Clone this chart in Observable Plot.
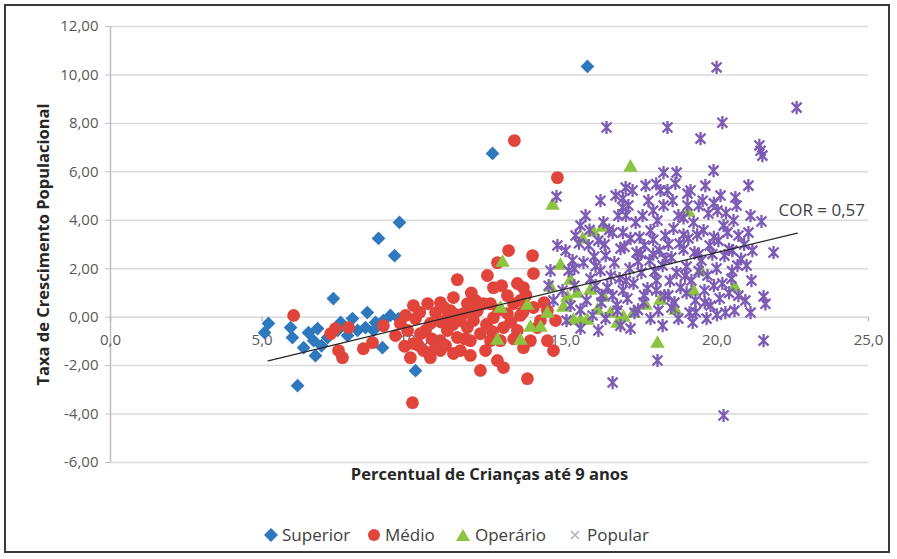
<!DOCTYPE html>
<html><head><meta charset="utf-8">
<script src="https://cdn.jsdelivr.net/npm/d3@7"></script>
<script src="https://cdn.jsdelivr.net/npm/@observablehq/plot@0.6"></script>
<style>
body{margin:0;background:#fff;font-family:"Open Sans",sans-serif;}
#wrap{position:relative;width:897px;height:559px;overflow:hidden;background:#fff;}
#frame{position:absolute;left:4px;top:4px;width:886px;height:549px;border:2px solid #3a3a3a;pointer-events:none;box-sizing:border-box;}
#chart{position:absolute;left:0;top:0;}
#legend{position:absolute;left:0;top:510px;width:897px;height:49px;font-size:17px;color:#404040;}
.item{position:absolute;top:14px;height:22px;line-height:22px;white-space:nowrap;}
.item svg{position:absolute;top:4px;}
.item span{position:absolute;top:0;}
</style>
</head><body>
<div id="wrap">
<div id="chart"></div>
<div id="legend"></div>
<div id="frame"></div>
</div>
<script>
// ---- data ----
const superior = [[15.73,10.35],[12.60,6.76],[9.53,3.91],[8.84,3.25],[9.37,2.54],[7.35,0.77],[5.21,-0.26],[5.08,-0.64],[5.94,-0.43],[6.00,-0.84],[6.53,-0.64],[6.83,-0.47],[6.70,-0.97],[6.37,-1.26],[6.76,-1.59],[7.16,-0.84],[7.49,-0.55],[7.82,-0.76],[8.15,-0.55],[8.47,0.19],[8.41,-0.43],[8.67,-0.55],[9.00,-0.14],[9.23,0.07],[8.97,-1.26],[6.17,-2.83],[10.06,-2.21],[6.96,-1.18],[7.59,-0.22],[7.98,-0.06],[8.74,-0.22],[9.50,-0.06]];
const medio = [[13.32,7.29],[14.74,5.76],[6.04,0.07],[9.96,-3.53],[13.75,-2.54],[12.20,-2.20],[11.44,1.55],[12.43,1.72],[13.13,2.75],[13.92,2.54],[13.95,1.80],[12.63,1.22],[13.42,1.39],[13.62,1.22],[12.76,2.25],[9.99,0.48],[10.46,0.56],[10.88,0.60],[11.31,0.81],[11.77,0.56],[12.10,0.27],[12.30,0.56],[9.56,-0.26],[9.80,-0.55],[9.99,-1.09],[10.32,-1.38],[10.55,-1.67],[9.89,-1.67],[10.88,-0.97],[11.11,-0.55],[11.44,-0.84],[11.54,-1.38],[11.77,-0.43],[11.97,-0.14],[12.20,-0.68],[12.53,-0.97],[12.76,-1.79],[12.96,-2.08],[13.62,-1.26],[13.42,-0.55],[13.09,0.15],[13.29,0.56],[13.95,0.40],[14.41,0.27],[14.41,-0.97],[14.61,-1.38],[14.08,-0.43],[12.96,-0.43],[12.63,-0.02],[11.64,0.15],[11.11,-0.02],[10.55,-0.26],[10.22,-0.68],[10.88,-1.38],[11.31,-1.50],[7.42,-0.47],[7.85,-0.43],[7.52,-1.38],[7.65,-1.67],[8.34,-1.30],[8.64,-1.05],[9.00,-0.35],[7.26,-0.68],[12.53,0.56],[13.09,0.89],[13.52,0.69],[14.18,-0.14],[14.68,-0.14],[11.21,0.27],[11.87,-0.97],[12.37,-1.38],[12.86,-0.97],[10.06,-0.06],[10.72,0.19],[10.39,-0.55],[11.54,-0.14],[11.05,-1.17],[9.40,-0.76],[9.73,0.07],[12.04,0.69],[13.52,0.07],[13.85,-0.97],[11.87,-1.58],[10.16,-1.17],
[10.2,0.2],[10.6,-0.9],[11.0,0.4],[11.3,-0.3],[11.7,-0.9],[12.0,0.2],[12.4,-0.3],[12.8,0.3],[13.2,-0.2],[13.6,0.2],[10.9,-0.2],[11.4,0.1],[12.6,-0.6],[13.3,-0.9],[9.7,-1.2],[10.7,-1.3],[11.9,1.0],[12.9,1.3],[13.7,0.9],[14.3,0.6]];
const operario = [[17.15,6.18],[14.58,4.61],[19.06,4.32],[15.57,3.20],[15.93,3.49],[16.23,3.70],[12.93,2.25],[14.84,2.13],[15.17,1.51],[19.46,1.88],[19.23,1.06],[20.58,1.22],[18.04,-1.09],[14.51,1.22],[15.40,0.97],[15.83,1.10],[16.26,0.81],[12.86,0.36],[13.75,0.48],[13.85,-0.43],[12.76,-0.97],[13.52,-0.97],[14.94,0.40],[16.06,0.27],[16.49,0.15],[15.27,-0.14],[15.73,-0.14],[16.72,-0.26],[16.92,-0.02],[14.41,0.15],[14.18,-0.43],[15.07,0.81],[15.50,-0.14],[17.25,0.15],[17.65,0.48],[18.14,0.69],[18.63,0.27]];
const popular = [[19.99,10.31],[22.63,8.65],[16.36,7.83],[18.37,7.83],[20.18,8.03],[19.46,7.37],[21.40,7.09],[21.44,6.87],[21.50,6.67],[18.24,5.97],[18.67,5.97],[19.89,6.05],[16.99,5.35],[21.04,5.43],[20.61,4.94],[14.71,4.98],[16.89,4.53],[15.50,3.78],[14.74,2.96],[21.87,2.67],[21.47,3.95],[21.54,0.85],[21.60,0.55],[21.54,-0.97],[16.56,-2.70],[18.04,-1.79],[20.22,-4.06],[18.37,5.23],[19.03,5.10],
[15.01,2.75],[15.11,1.92],[14.91,1.10],[15.17,0.48],[15.04,-0.14],[15.34,3.37],[15.24,2.34],
[15.67,4.19],[15.77,2.96],[15.60,2.25],[15.83,1.59],[15.70,0.69],[15.90,0.07],[15.50,-0.47],
[16.16,4.81],[16.26,3.91],[16.09,3.16],[16.33,2.54],[16.16,1.92],[16.39,1.22],[16.19,0.60],[16.33,-0.06],[16.09,-0.55],
[16.66,5.02],[16.75,4.19],[16.56,3.49],[16.82,2.83],[16.62,2.25],[16.79,1.59],[16.56,0.89],[16.72,0.27],[16.82,-0.35],
[17.22,5.23],[17.08,4.61],[17.32,3.91],[17.15,3.25],[17.35,2.67],[17.12,2.01],[17.25,1.39],[17.05,0.77],[17.28,0.19],[17.15,-0.47],
[17.65,5.43],[17.74,4.81],[17.55,4.19],[17.81,3.58],[17.61,2.96],[17.78,2.34],[17.51,1.84],[17.71,1.18],[17.58,0.60],[17.81,-0.06],
[18.14,5.23],[18.24,4.61],[18.04,3.99],[18.30,3.37],[18.11,2.75],[18.21,2.13],[18.01,1.51],[18.27,0.89],[18.07,0.27],[18.21,-0.35],
[18.63,5.52],[18.54,4.81],[18.73,4.19],[18.57,3.66],[18.77,3.04],[18.50,2.46],[18.67,1.84],[18.80,1.22],[18.60,0.60],[18.73,-0.06],
[19.13,5.23],[19.03,4.61],[19.23,3.91],[19.06,3.25],[19.26,2.67],[19.00,2.09],[19.16,1.51],[19.29,0.69],[19.10,0.19],[19.20,-0.22],
[19.62,5.43],[19.53,4.81],[19.72,4.28],[19.56,3.58],[19.76,2.96],[19.49,2.34],[19.69,1.72],[19.59,1.10],[19.79,0.48],[19.66,-0.06],
[20.12,5.02],[20.02,4.40],[20.22,3.78],[20.05,3.16],[20.25,2.54],[19.99,2.01],[20.18,1.39],[20.09,0.77],[20.28,0.19],
[20.65,4.61],[20.55,3.99],[20.71,3.37],[20.51,2.75],[20.68,2.13],[20.48,1.59],[20.71,0.89],[20.58,0.27],
[21.11,4.19],[21.04,3.49],[21.17,2.75],[20.98,2.13],[21.14,1.51],[20.94,0.69],[21.11,0.19],
[14.51,1.92],[14.61,0.69],[14.45,1.30],
[15.45,3.05],[15.95,2.5],[16.45,3.6],[16.95,2.9],[17.45,3.3],[17.9,2.6],[18.4,3.0],[18.9,2.8],[19.35,3.4],[19.85,2.6],[20.35,3.5],[20.8,2.4],[16.0,1.3],[16.5,1.7],[17.0,1.5],[17.4,2.3],[17.95,1.9],[18.45,1.5],[18.95,1.7],[19.4,1.9],[19.9,1.3],[20.4,1.0],[16.7,0.5],[17.6,0.9],[18.5,0.4],[19.3,0.2],[20.0,0.1],[15.3,1.3],[15.5,0.3],[16.9,4.9],[17.9,4.4],[19.4,4.6],[20.3,4.3],[18.0,5.5],
[15.8,3.6],[16.3,3.0],[16.9,3.5],[17.5,2.6],[17.9,3.2],[18.3,2.4],[18.9,3.4],[19.4,2.6],[19.9,3.3],[20.4,2.8],[16.2,0.9],[16.9,1.1],[17.4,0.3],[18.0,1.1],[18.4,0.9],[19.0,1.0],[19.6,0.6],[20.5,1.9],[17.0,4.2],[18.9,4.1],[19.9,4.7],[15.3,2.0],[16.0,2.1],[20.9,3.0]];
const trendX = [5.2, 22.65];
const trendY = [-1.80, 3.47];
const corLabel = "COR = 0,57";
const corPos = [22.03, 4.40];
const xTicks = [0, 5, 10, 15, 20, 25];
const yTicks = [-6, -4, -2, 0, 2, 4, 6, 8, 10, 12];
const seriesNames = ["Superior", "Médio", "Operário", "Popular"];
const colors = ["#2e78bd", "#e0443b", "#8cc43f", "#7d5cb5"];
const xTitle = "Percentual de Crianças até 9 anos";
const yTitle = "Taxa de Crescimento Populacional";

// ---- helpers ----
const fmt2 = v => d3.format(".2f")(v).replace(".", ",").replace("\u2212", "-");
const fmt1 = v => d3.format(".1f")(v).replace(".", ",").replace("\u2212", "-");
const star = {
  draw(ctx, size) {
    const s = Math.sqrt(size / Math.PI);
    const a = s * 0.68;
    ctx.moveTo(-a, -a); ctx.lineTo(a, a);
    ctx.moveTo(a, -a); ctx.lineTo(-a, a);
    ctx.moveTo(0, -s * 0.9); ctx.lineTo(0, s * 0.9);
  }
};
const trend = trendX.map((x, i) => ({x, y: trendY[i]}));

const chart = Plot.plot({
  width: 897, height: 510,
  marginLeft: 110, marginRight: 29, marginTop: 26, marginBottom: 48,
  x: {domain: [0, 25], axis: null},
  y: {domain: [-6, 12], axis: null},
  style: {fontFamily: "Open Sans", background: "white"},
  marks: [
    Plot.ruleY(yTicks, {stroke: "#d9d9d9", strokeWidth: 1.5}),
    Plot.ruleX([0], {y1: -6, y2: 12, stroke: "#bfbfbf", strokeWidth: 1.5}),
    Plot.ruleX(xTicks, {y1: 0, y2: -0.2, stroke: "#bfbfbf", strokeWidth: 1.5}),
    Plot.axisY(yTicks, {tickSize: 5, tickPadding: 7, tickFormat: fmt2, fontSize: 15, stroke: "#bfbfbf", fill: "#595959", label: null}),
    Plot.text(xTicks, {x: d => d, y: 0, dy: 23, text: fmt1, fill: "#595959", fontSize: 15}),
    Plot.dot(superior, {x: d => d[0], y: d => d[1], symbol: "diamond2", r: 6.2, fill: colors[0]}),
    Plot.dot(medio, {x: d => d[0], y: d => d[1], symbol: "circle", r: 6.4, fill: colors[1]}),
    Plot.dot(operario, {x: d => d[0], y: d => d[1], symbol: "triangle", r: 5.4, fill: colors[2]}),
    Plot.dot(popular, {x: d => d[0], y: d => d[1], symbol: star, r: 7.3, fill: "none", stroke: colors[3], strokeWidth: 2.3}),
    Plot.line(trend, {x: "x", y: "y", stroke: "#262626", strokeWidth: 1.3}),
    Plot.text([corLabel], {x: corPos[0], y: corPos[1], textAnchor: "start", fontSize: 17, fill: "#404040"}),
    Plot.text([xTitle], {frameAnchor: "bottom", dy: 17, fontWeight: "bold", fontSize: 16.5, fill: "#262626"}),
    Plot.text([yTitle], {frameAnchor: "left", textAnchor: "middle", rotate: -90, dx: -67, fontWeight: "bold", fontSize: 16.5, fill: "#262626"})
  ]
});
document.getElementById("chart").appendChild(chart);

// ---- legend ----
const legendPos = [[271, 282], [374, 385], [463, 475], [575, 587]];
const shapes = [
  `<path d="M7 0L14 7L7 14L0 7Z" fill="${colors[0]}"/>`,
  `<circle cx="7" cy="7" r="6" fill="${colors[1]}"/>`,
  `<path d="M7 1L14 13L0 13Z" fill="${colors[2]}"/>`,
  `<path d="M3 3L11 11M11 3L3 11" stroke="#b4aec4" stroke-width="1.6" fill="none"/>`
];
const legend = document.getElementById("legend");
seriesNames.forEach((name, i) => {
  const el = document.createElement("div");
  el.className = "item";
  el.style.left = "0px";
  el.innerHTML = `<svg width="14" height="14" style="left:${legendPos[i][0] - 7}px">${shapes[i]}</svg><span style="left:${legendPos[i][1]}px">${name}</span>`;
  legend.appendChild(el);
});
</script>
</body></html>
